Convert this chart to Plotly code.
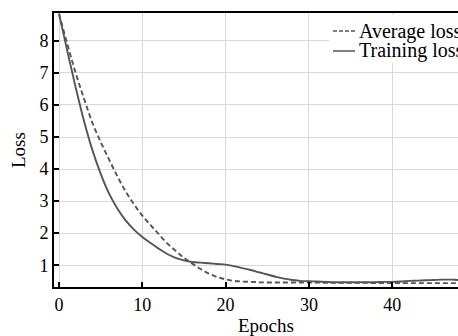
import plotly.graph_objects as go

epochs = list(range(0, 51))
training_loss = [8.85, 7.68, 6.55, 5.5, 4.6, 3.86, 3.24, 2.77, 2.4, 2.11,
                 1.88, 1.69, 1.51, 1.35, 1.23, 1.15, 1.1, 1.08, 1.06, 1.04,
                 1.02, 0.97, 0.91, 0.85, 0.78, 0.71, 0.64, 0.58, 0.54, 0.51,
                 0.50, 0.49, 0.48, 0.47, 0.47, 0.47, 0.47, 0.47, 0.47, 0.48,
                 0.48, 0.49, 0.51, 0.52, 0.53, 0.54, 0.55, 0.55, 0.54, 0.54, 0.53]
average_loss = [8.85, 7.9, 7.0, 6.2, 5.45, 4.85, 4.3, 3.78, 3.3, 2.9,
                2.55, 2.25, 1.96, 1.68, 1.45, 1.23, 1.05, 0.88, 0.74, 0.63,
                0.56, 0.51, 0.49, 0.48, 0.47, 0.46, 0.46, 0.46, 0.46, 0.46,
                0.46, 0.46, 0.45, 0.45, 0.45, 0.45, 0.45, 0.45, 0.44, 0.44,
                0.44, 0.44, 0.44, 0.44, 0.44, 0.44, 0.44, 0.44, 0.44, 0.44, 0.44]
x_ticks = [0, 10, 20, 30, 40]
y_ticks = [1, 2, 3, 4, 5, 6, 7, 8]
legend_names = ["Average loss", "Training loss"]

FONT = "Liberation Serif, Times New Roman, serif"
LINE = "#555555"

W, H = 458, 336
ML, MT, MB, MR = 54, 13, 49, 0
PW = W - ML - MR
PH = H - MT - MB

fig = go.Figure()
fig.add_trace(go.Scatter(x=epochs, y=average_loss, mode="lines", name=legend_names[0],
                         line=dict(color=LINE, width=1.9, dash="5px,3px", shape="spline"),
                         showlegend=False))
fig.add_trace(go.Scatter(x=epochs, y=training_loss, mode="lines", name=legend_names[1],
                         line=dict(color=LINE, width=1.9, shape="spline"),
                         showlegend=False))


def px_x(p):
    return (p - ML) / PW


def px_y(p):
    return 1 - (p - MT) / PH


shapes = [
    dict(type="rect", xref="paper", yref="paper", x0=px_x(329), x1=1.01,
         y0=px_y(63), y1=px_y(14.5), fillcolor="white", line=dict(width=0), layer="above"),
    dict(type="line", xref="paper", yref="paper", x0=px_x(333), x1=px_x(355),
         y0=px_y(31), y1=px_y(31), line=dict(color=LINE, width=1.5, dash="4px,2px"), layer="above"),
    dict(type="line", xref="paper", yref="paper", x0=px_x(333), x1=px_x(355),
         y0=px_y(51), y1=px_y(51), line=dict(color=LINE, width=1.5), layer="above"),
]
annotations = [
    dict(text=legend_names[0], xref="paper", yref="paper", x=px_x(356.5), y=px_y(31),
         xanchor="left", yanchor="middle", showarrow=False, font=dict(family=FONT, size=20, color="black")),
    dict(text=legend_names[1], xref="paper", yref="paper", x=px_x(356.5), y=px_y(51),
         xanchor="left", yanchor="middle", showarrow=False, font=dict(family=FONT, size=20, color="black")),
    dict(text="Epochs", xref="paper", yref="paper", x=px_x(266), y=px_y(325),
         xanchor="center", yanchor="middle", showarrow=False, font=dict(family=FONT, size=19, color="black")),
    dict(text="Loss", xref="paper", yref="paper", x=px_x(18), y=px_y(150),
         xanchor="center", yanchor="middle", textangle=-90, showarrow=False,
         font=dict(family=FONT, size=19, color="black")),
]

fig.update_layout(
    width=W, height=H,
    margin=dict(l=ML, r=MR, t=MT, b=MB, pad=0),
    paper_bgcolor="white", plot_bgcolor="white",
    font=dict(family=FONT, size=18, color="black"),
    shapes=shapes, annotations=annotations,
    xaxis=dict(range=[-0.6, 47.9], tickvals=x_ticks, ticks="inside", ticklen=5, tickwidth=1.5,
               tickcolor="black", showline=True, linecolor="black", linewidth=2, mirror=True,
               showgrid=True, gridcolor="#d8d8d8", gridwidth=1.2, zeroline=False,
               tickfont=dict(family=FONT, size=18, color="black")),
    yaxis=dict(range=[0.32, 8.87], tickvals=y_ticks, ticks="inside", ticklen=5, tickwidth=1.5,
               tickcolor="black", showline=True, linecolor="black", linewidth=2, mirror=False,
               showgrid=True, gridcolor="#d8d8d8", gridwidth=1.2, zeroline=False,
               tickfont=dict(family=FONT, size=18, color="black")),
)

fig.write_html("out.html", config={"displayModeBar": False},
               post_script="document.body.style.margin='0';document.body.style.overflow='hidden';")
